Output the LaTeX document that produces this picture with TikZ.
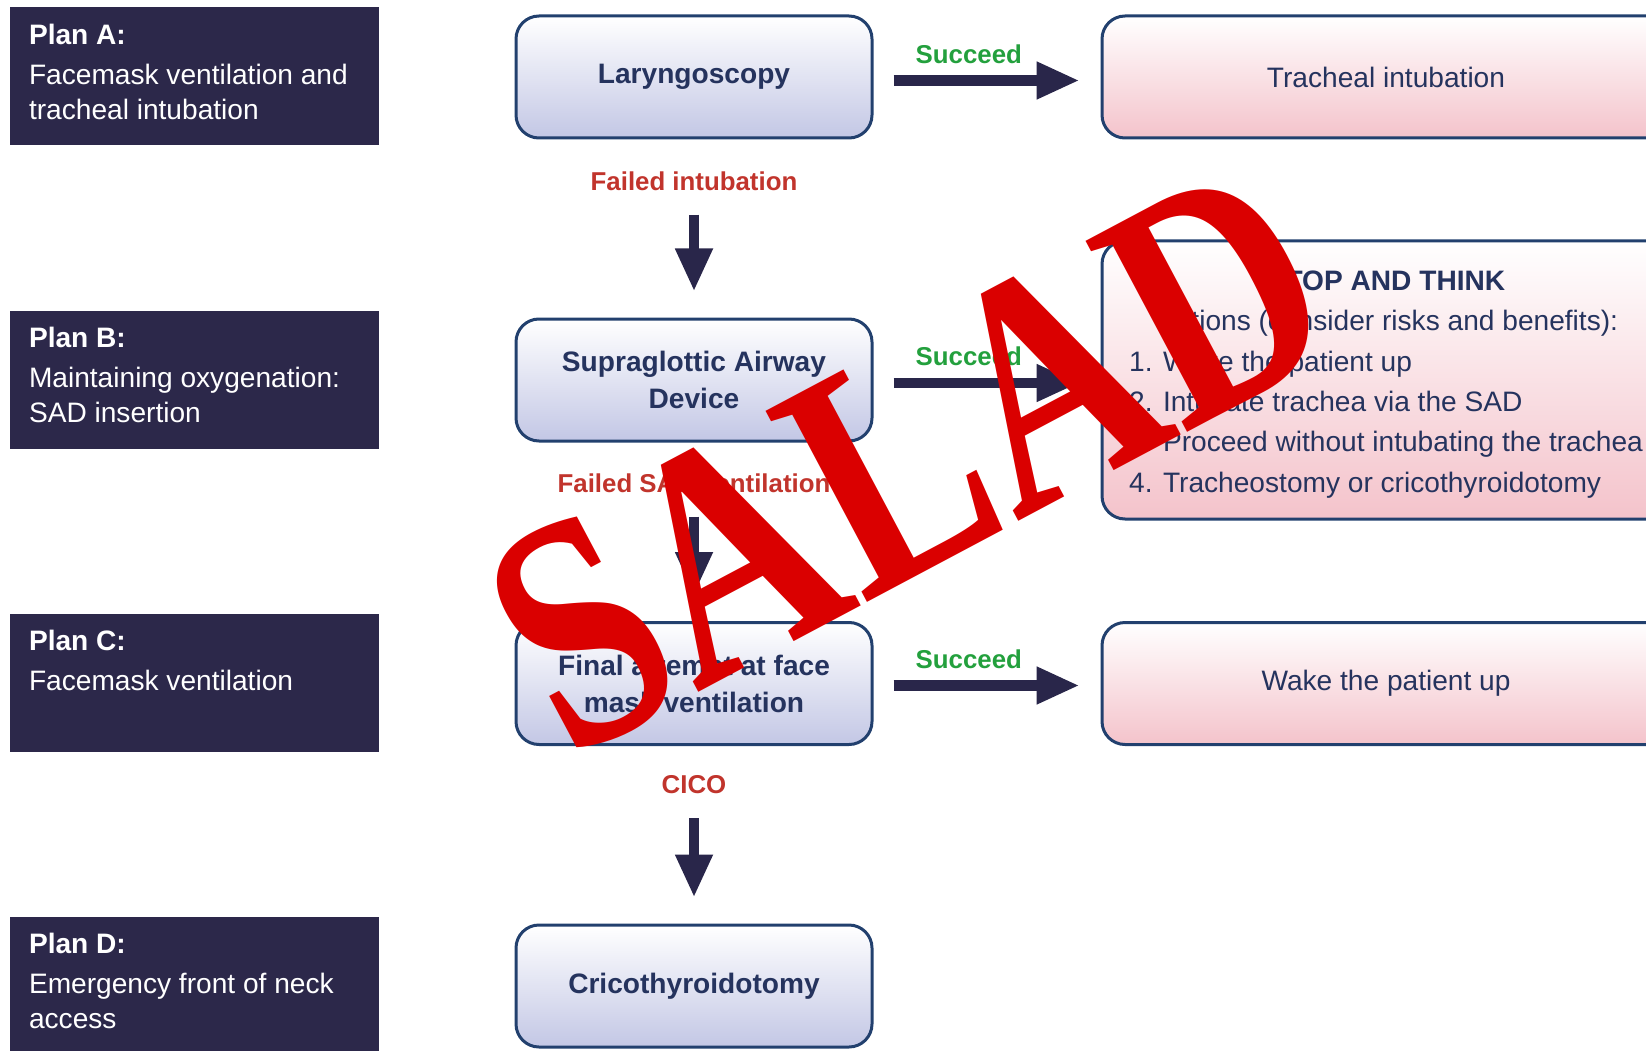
\documentclass[tikz,border=0pt]{standalone}
\usepackage{fontspec}
\setmainfont{Liberation Sans}
\newfontfamily\stampfont{Liberation Serif}
\usepackage{tikz}
\usetikzlibrary{arrows.meta, positioning}
\definecolor{plannavy}{HTML}{2C284A}
\definecolor{edgenavy}{HTML}{22406E}
\definecolor{textnavy}{HTML}{25335E}
\definecolor{arrownavy}{HTML}{29264A}
\definecolor{lavender}{HTML}{C3C7E5}
\definecolor{blush}{HTML}{F4C3CB}
\definecolor{succgreen}{HTML}{23A03D}
\definecolor{failred}{HTML}{C1342C}
\definecolor{stampred}{HTML}{DA0000}

\begin{document}
\begin{tikzpicture}[
  planbox/.style={fill=plannavy, minimum width=7.38cm, minimum height=2.76cm, inner sep=0pt},
  plantext/.style={anchor=north west, align=left, text=white, inner sep=0pt, font=\fontsize{16}{19.9}\selectfont},
  stepbox/.style={draw=edgenavy, line width=0.06cm, rounded corners=0.46cm, top color=white, bottom color=lavender, minimum width=7.12cm, minimum height=2.44cm, align=center, text=textnavy, font=\fontsize{16}{21}\selectfont\bfseries},
  outbox/.style={draw=edgenavy, line width=0.06cm, rounded corners=0.46cm, top color=white, bottom color=blush, minimum width=11.36cm, minimum height=2.44cm, align=center, text=textnavy, font=\fontsize{16}{23}\selectfont},
  flow/.style={draw=arrownavy, line width=0.21cm, -{Triangle[length=0.86cm, width=0.7cm]}},
  fail/.style={text=failred, font=\fontsize{14.7}{17}\selectfont\bfseries},
  succ/.style={text=succgreen, font=\fontsize{14.7}{17}\selectfont\bfseries},
]
  \useasboundingbox (0,0) rectangle (32.92,21);
  \clip (0,0) rectangle (32.92,21);

  \node[planbox] (planA) at (3.89, 19.47) {};
  \node[planbox] (planB) at (3.89, 13.4) {};
  \node[planbox] (planC) at (3.89, 7.34) {};
  \node[planbox] (planD) at (3.89, 1.28) {};
  \node[plantext] (planAtext) at ([xshift=0.38cm, yshift=-0.33cm]planA.north west) {\textbf{Plan A:}\\[0.1cm]Facemask ventilation and\\tracheal intubation};
  \node[plantext] (planBtext) at ([xshift=0.38cm, yshift=-0.33cm]planB.north west) {\textbf{Plan B:}\\[0.1cm]Maintaining oxygenation:\\SAD insertion};
  \node[plantext] (planCtext) at ([xshift=0.38cm, yshift=-0.33cm]planC.north west) {\textbf{Plan C:}\\[0.1cm]Facemask ventilation};
  \node[plantext] (planDtext) at ([xshift=0.38cm, yshift=-0.33cm]planD.north west) {\textbf{Plan D:}\\[0.1cm]Emergency front of neck\\access};

  \node[stepbox] (laryn) at (13.88, 19.46) {Laryngoscopy};
  \node[stepbox] (sad) at (13.88, 13.4) {Supraglottic Airway\\Device};
  \node[stepbox] (final) at (13.88, 7.33) {Final attempt at face\\mask ventilation};
  \node[stepbox] (crico) at (13.88, 1.28) {Cricothyroidotomy};

  \node[outbox] (trach) at (27.72, 19.46) {Tracheal intubation};
  \node[outbox, minimum height=5.56cm] (stop) at (27.72, 13.4) {};
  \node[align=center, text=textnavy, font=\fontsize{16}{23}\selectfont] (stoptext) at ([yshift=-0.15cm]stop.center) {\textbf{STOP AND THINK}\\Options (consider risks and benefits):\\\begin{tabular}[t]{@{}l@{}}1. Wake the patient up\\2. Intubate trachea via the SAD\\3. Proceed without intubating the trachea\\4. Tracheostomy or cricothyroidotomy\end{tabular}};
  \node[outbox] (wake) at (27.72, 7.33) {Wake the patient up};

  \node[fail] (failA) at (13.88, 17.38) {Failed intubation};
  \node[fail] (failB) at (13.88, 11.34) {Failed SAD ventilation};
  \node[fail] (failC) at (13.88, 5.3) {CICO};

  \draw[flow, shorten <=0.4cm, shorten >=0.42cm] ([yshift=-0.07cm]laryn.east) -- node[succ, pos=0.42, above=0.12cm] {Succeed} ([yshift=-0.07cm]trach.west);
  \draw[flow, shorten <=0.4cm, shorten >=0.42cm] ([yshift=-0.06cm]sad.east) -- node[succ, pos=0.42, above=0.12cm] {Succeed} ([yshift=-0.06cm]sad.east -| stop.west);
  \draw[flow, shorten <=0.4cm, shorten >=0.42cm] ([yshift=-0.04cm]final.east) -- node[succ, pos=0.42, above=0.12cm] {Succeed} ([yshift=-0.04cm]wake.west);

  \draw[flow, shorten <=0.36cm, shorten >=0.52cm] (failA) -- (sad);
  \draw[flow, shorten <=0.36cm, shorten >=0.52cm] (failB) -- (final);
  \draw[flow, shorten <=0.36cm, shorten >=0.52cm] (failC) -- (crico);

  \node[rotate=28, text=stampred, inner sep=0pt, font=\stampfont\bfseries\fontsize{188}{188}\selectfont] (stamp) at (18.17, 11.83) {\scalebox{0.79}[1]{SALAD}};
\end{tikzpicture}
\end{document}
